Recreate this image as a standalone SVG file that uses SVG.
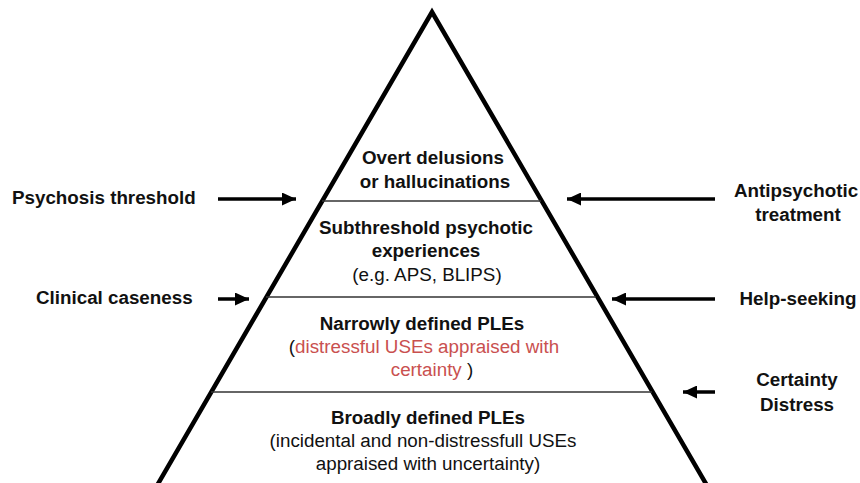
<svg xmlns="http://www.w3.org/2000/svg" width="860" height="483" viewBox="0 0 860 483">
<style>
  text { font-family: "Liberation Sans", Arial, Helvetica, sans-serif; font-size: 18.8px; fill: #111; }
  .b { font-weight: bold; }
  .c { text-anchor: middle; }
  .red { fill: #c9504f; }
  .div { stroke: #333; stroke-width: 1.6; fill: none; }
  .arr { stroke: #000; stroke-width: 3.5; fill: none; marker-end: url(#ah); }
</style>
<defs>
  <marker id="ah" markerUnits="userSpaceOnUse" markerWidth="15" markerHeight="13" refX="14" refY="6.5" orient="auto">
    <path d="M0,0 L14,6.5 L0,13 Z" fill="#000"/>
  </marker>
</defs>
<rect width="860" height="483" fill="#fff"/>
<g id="pyramid">
  <path d="M155,489 L432,12 L709,489" fill="none" stroke="#000" stroke-width="4.5" stroke-linejoin="miter"/>
  <line class="div" x1="322" y1="201" x2="541" y2="201"/>
  <line class="div" x1="266" y1="297" x2="596" y2="297"/>
  <line class="div" x1="211" y1="392" x2="652" y2="392"/>
</g>
<g id="layer-overt">
  <text class="b c" x="433" y="164">Overt delusions</text>
  <text class="b c" x="435" y="188">or hallucinations</text>
</g>
<g id="layer-subthreshold">
  <text class="b c" x="426" y="234">Subthreshold psychotic</text>
  <text class="b c" x="426" y="257">experiences</text>
  <text class="c" x="427" y="281">(e.g. APS, BLIPS)</text>
</g>
<g id="layer-narrow">
  <text class="b c" x="422" y="330">Narrowly defined PLEs</text>
  <text class="c" x="424" y="353">(<tspan class="red">distressful USEs appraised with</tspan></text>
  <text class="c" x="432" y="376"><tspan class="red">certainty</tspan> )</text>
</g>
<g id="layer-broad">
  <text class="b c" x="428" y="424">Broadly defined PLEs</text>
  <text class="c" x="423" y="447">(incidental and non-distressfull USEs</text>
  <text class="c" x="428" y="470">appraised with uncertainty)</text>
</g>
<g id="label-psychosis-threshold">
  <text class="b" x="12" y="204">Psychosis threshold</text>
</g>
<g id="label-clinical-caseness">
  <text class="b" x="36" y="304">Clinical caseness</text>
</g>
<g id="label-antipsychotic">
  <text class="b c" x="796" y="197">Antipsychotic</text>
  <text class="b c" x="798" y="221">treatment</text>
</g>
<g id="label-help-seeking">
  <text class="b c" x="798" y="305">Help-seeking</text>
</g>
<g id="label-certainty-distress">
  <text class="b c" x="797" y="386">Certainty</text>
  <text class="b c" x="797" y="411">Distress</text>
</g>
<g id="connectors">
  <line class="arr" x1="218" y1="199" x2="296" y2="199"/>
  <line class="arr" x1="218" y1="299" x2="249" y2="299"/>
  <line class="arr" x1="715" y1="199" x2="567" y2="199"/>
  <line class="arr" x1="715" y1="299" x2="612" y2="299"/>
  <line class="arr" x1="715" y1="392" x2="683" y2="392"/>
</g>
</svg>
